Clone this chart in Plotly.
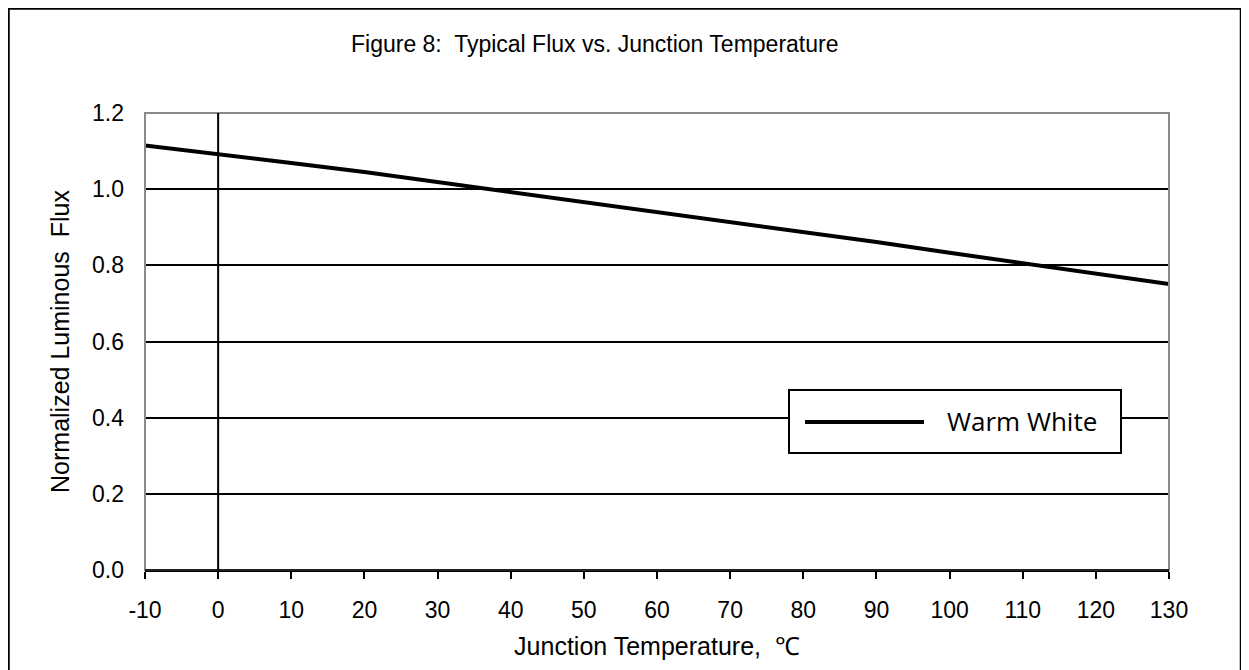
import plotly.graph_objects as go

# ---- data ----
temperature_c = [-10, 0, 10, 20, 30, 40, 50, 60, 70, 80, 90, 100, 110, 120, 130]
warm_white_flux = [1.115, 1.093, 1.069, 1.045, 1.019, 0.993, 0.967, 0.941, 0.915,
                   0.888, 0.861, 0.833, 0.805, 0.778, 0.751]
x_ticks = [-10, 0, 10, 20, 30, 40, 50, 60, 70, 80, 90, 100, 110, 120, 130]
x_tick_text = ["-10", "0", "10", "20", "30", "40", "50", "60", "70", "80", "90",
               "100", "110", "120", "130"]
y_ticks = [0.0, 0.2, 0.4, 0.6, 0.8, 1.0, 1.2]
series_name = "Warm White"

W, H = 1249, 670
OFF = 8  # page body margin offset
L, R, T, B = 137, 88, 105, 108
PW, PH = W - L - R, H - T - B

def px(xs):
    return (xs - OFF - L) / PW

def py(ys):
    return (H - B - (ys - OFF)) / PH

font = "Liberation Sans, Arial, sans-serif"

fig = go.Figure()
fig.add_trace(go.Scatter(x=temperature_c, y=warm_white_flux, mode="lines",
                         name=series_name, line=dict(color="black", width=4),
                         showlegend=False))

fig.update_layout(
    width=W, height=H,
    margin=dict(l=L, r=R, t=T, b=B),
    paper_bgcolor="white", plot_bgcolor="white",
    font=dict(family=font, size=23, color="black"),
    xaxis=dict(range=[-10, 130], tickvals=x_ticks, ticktext=x_tick_text,
               ticks="outside", ticklen=7, tickcolor="black", tickwidth=1.5,
               showline=True, linecolor="black", linewidth=1.5, showgrid=False,
               zeroline=False, ticklabelstandoff=12, tickfont=dict(size=23),
               title=dict(text="Junction Temperature,  \u2103", standoff=15,
                          font=dict(size=25))),
    yaxis=dict(range=[0, 1.2], tickvals=y_ticks, tickformat=".1f", ticks="",
               showline=False, showgrid=True, gridcolor="black", gridwidth=1.5,
               zeroline=False, ticklabelstandoff=20, tickfont=dict(size=23),
               title=dict(text="Normalized Luminous  Flux", standoff=15,
                          font=dict(size=25))),
)

shapes = []
# plot area border (grey)
shapes.append(dict(type="rect", xref="paper", yref="paper", x0=0, x1=1, y0=0, y1=1,
                   line=dict(color="#8a8a8a", width=2), layer="above"))
# x-axis line in black on top
shapes.append(dict(type="line", xref="paper", yref="paper", x0=0, x1=1, y0=0, y1=0,
                   line=dict(color="black", width=1.5)))
# vertical axis crossing at 0
shapes.append(dict(type="line", xref="x", yref="y", x0=0, x1=0, y0=0, y1=1.2,
                   line=dict(color="black", width=2)))
# outer chart frame
shapes.append(dict(type="rect", xref="paper", yref="paper",
                   x0=px(8.5), x1=px(1241), y0=py(700), y1=py(8.5),
                   line=dict(color="black", width=2.5), layer="above"))
# legend box
shapes.append(dict(type="rect", xref="paper", yref="paper",
                   x0=px(789), x1=px(1121), y0=py(453), y1=py(390),
                   line=dict(color="black", width=2), fillcolor="white", layer="above"))
shapes.append(dict(type="line", xref="paper", yref="paper",
                   x0=px(805), x1=px(924), y0=py(422), y1=py(422),
                   line=dict(color="black", width=4), layer="above"))
fig.update_layout(shapes=shapes)

fig.add_annotation(text=series_name, xref="paper", yref="paper",
                   x=px(945), y=py(421), xanchor="left", yanchor="middle",
                   showarrow=False, font=dict(family="Open Sans, sans-serif", size=26))
fig.add_annotation(text="Figure 8:  Typical Flux vs. Junction Temperature",
                   xref="paper", yref="paper", x=px(594), y=py(44),
                   xanchor="center", yanchor="middle", showarrow=False,
                   font=dict(size=23))

fig.write_html("out.html")
